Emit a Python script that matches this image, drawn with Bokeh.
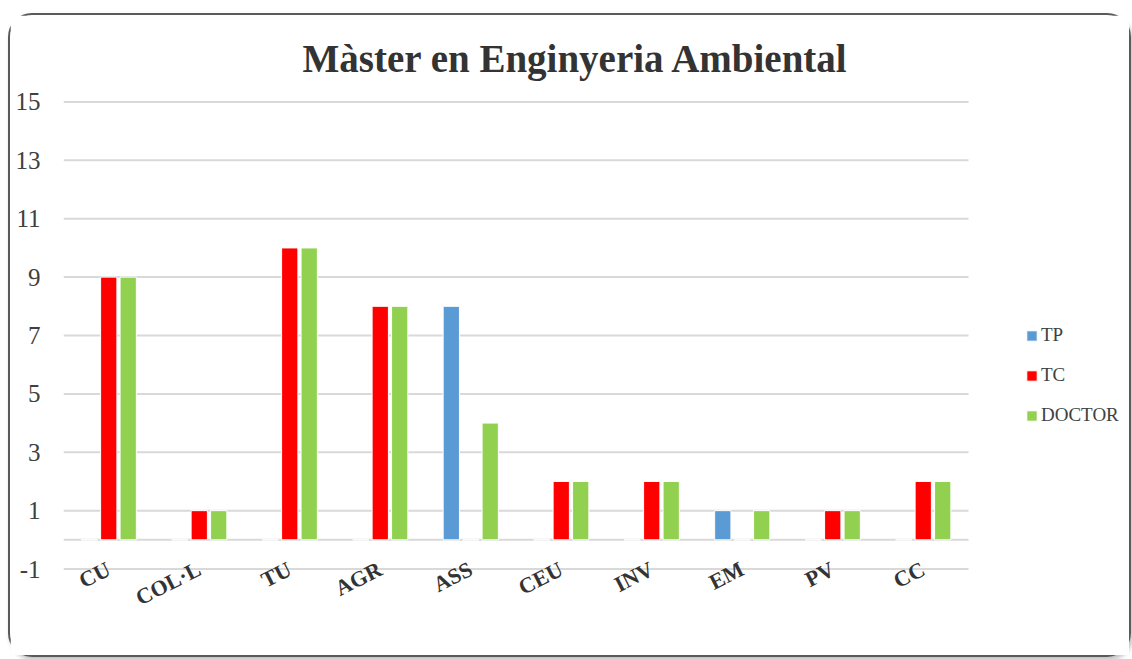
from bokeh.plotting import figure
from bokeh.models import ColumnDataSource, Legend, LegendItem, FixedTicker, Range1d
from bokeh.embed import file_html
from bokeh.resources import INLINE

categories = ["CU", "COL·L", "TU", "AGR", "ASS", "CEU", "INV", "EM", "PV", "CC"]
tp = [0, 0, 0, 0, 8, 0, 0, 1, 0, 0]
tc = [9, 1, 10, 8, 0, 2, 2, 0, 1, 2]
doctor = [9, 1, 10, 8, 4, 2, 2, 1, 1, 2]
y_ticks = [-1, 1, 3, 5, 7, 9, 11, 13, 15]

n = len(categories)
pos = list(range(1, n + 1))
off = 0.215
w = 0.18

source = ColumnDataSource(data=dict(
    x_tp=[i - off for i in pos], x_tc=pos, x_doc=[i + off for i in pos],
    tp=tp, tc=tc, doctor=doctor))
grid_src = ColumnDataSource(data=dict(y=y_ticks + [0], x0=[0.5] * (len(y_ticks) + 1),
                                      x1=[n + 0.5] * (len(y_ticks) + 1)))

FONT = "Liberation Serif"

# frame: categories occupy ~905 px; frame extends to the right edge for the legend
x_end = 0.5 + 1070 / 90.5

p = figure(x_range=Range1d(0.5, x_end), y_range=(-1.05, 15.05), width=1123, height=644,
           output_backend="svg", toolbar_location=None,
           title="Màster en Enginyeria Ambiental",
           min_border_left=53, min_border_right=0, min_border_top=85, min_border_bottom=89,
           styles={"border": "2px solid #5a5a5a", "border-radius": "24px",
                   "box-sizing": "border-box", "margin-left": "8px", "margin-top": "13px",
                   "box-shadow": "2px 3px 4px rgba(0,0,0,0.25)"})

p.title.align = "left"
p.title.offset = 239
p.title.text_font = FONT
p.title.text_font_size = "39px"
p.title.text_font_style = "bold"
p.title.text_color = "#333333"
p.title.vertical_align = "top"
p.title.standoff = 38

p.segment(x0="x0", x1="x1", y0="y", y1="y", source=grid_src, line_color="#d9d9d9", line_width=2)

r1 = p.vbar(x="x_tp", top="tp", width=w, source=source,
            fill_color="#5B9BD5", line_color="white", line_width=1)
r2 = p.vbar(x="x_tc", top="tc", width=w, source=source,
            fill_color="#FF0000", line_color="white", line_width=1)
r3 = p.vbar(x="x_doc", top="doctor", width=w, source=source,
            fill_color="#92D050", line_color="white", line_width=1)

p.xgrid.grid_line_color = None
p.ygrid.grid_line_color = None
p.yaxis.ticker = FixedTicker(ticks=y_ticks)
p.yaxis.major_label_overrides = {-1: "-1"}
p.yaxis.axis_line_color = None
p.yaxis.major_tick_line_color = None
p.yaxis.major_tick_out = 0
p.yaxis.minor_tick_out = 0
p.yaxis.minor_tick_line_color = None
p.yaxis.major_label_standoff = 23
p.yaxis.major_label_text_font = FONT
p.yaxis.major_label_text_font_size = "25px"
p.yaxis.major_label_text_color = "#404040"

p.xaxis.ticker = FixedTicker(ticks=pos)
p.xaxis.major_label_overrides = {i: c for i, c in zip(pos, categories)}
p.xaxis.axis_line_color = None
p.xaxis.major_tick_line_color = None
p.xaxis.major_tick_out = 0
p.xaxis.minor_tick_out = 0
p.xaxis.minor_tick_line_color = None
p.xaxis.major_label_orientation = 0.47
p.xaxis.major_label_standoff = -3
p.xaxis.major_label_text_font = FONT
p.xaxis.major_label_text_font_size = "22px"
p.xaxis.major_label_text_font_style = "bold"
p.xaxis.major_label_text_color = "#333333"

p.outline_line_color = None

legend = Legend(items=[LegendItem(label="TP", renderers=[r1]),
                       LegendItem(label="TC", renderers=[r2]),
                       LegendItem(label="DOCTOR", renderers=[r3])],
                location=(962, 144), orientation="vertical",
                padding=0, margin=0, spacing=18,
                glyph_width=13, glyph_height=13, label_height=20, label_standoff=3,
                label_text_font=FONT, label_text_font_size="19px", label_text_color="#404040",
                border_line_color=None, background_fill_alpha=0)
p.add_layout(legend, "center")

open("out.html", "w").write(file_html(p, INLINE))
